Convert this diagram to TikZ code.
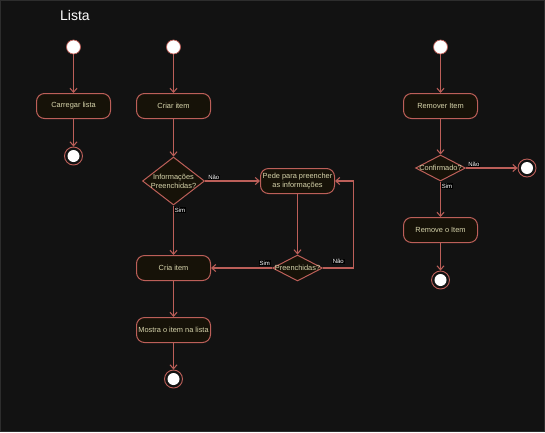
\documentclass[tikz,border=0pt]{standalone}
\usepackage{fontspec}
\setmainfont{Liberation Sans}
\usepackage{tikz}
\usetikzlibrary{arrows.meta,shapes.geometric,calc}

\definecolor{bgcol}{HTML}{121212}
\definecolor{linecol}{HTML}{BC5F59}
\definecolor{boxcol}{HTML}{161208}
\definecolor{txtcol}{HTML}{D8D5AC}

\tikzset{
  actbox/.style={draw=linecol, fill=boxcol, rounded corners=8pt, line width=1pt,
    minimum width=74, minimum height=25, inner sep=1pt, align=center,
    text=txtcol, font=\fontsize{7.4}{8.8}\selectfont},
  decis/.style={diamond, draw=linecol, fill=boxcol, line width=1pt, inner sep=0pt},
  dectext/.style={text=txtcol, font=\fontsize{7.4}{8.8}\selectfont, align=center, inner sep=0pt},
  startnode/.style={circle, draw=linecol, fill=white, minimum size=14, inner sep=0pt, line width=0.7pt},
  endnode/.style={circle, draw=linecol, fill=bgcol, minimum size=18, inner sep=0pt, line width=0.9pt,
    path picture={\fill[white] (path picture bounding box.center) circle (6pt);}},
  flow/.style={color=linecol, line width=1.05pt, -{Straight Barb[length=4pt,width=7pt]}},
  lbl/.style={fill=black, text=white, inner sep=0.8pt, font=\fontsize{6}{7}\selectfont}
}

\begin{document}
\begin{tikzpicture}[x=1pt,y=-1pt]
\fill[bgcol] (0,0) rectangle (545,432);
\draw[gray!25!bgcol, line width=1pt] (0.5,0.5) rectangle (544.5,431.5);

\node[text=white, font=\fontsize{14}{16}\selectfont] (title) at (75,15) {Lista};

% carregar
\node[startnode] (s1) at (73.5,47) {};
\node[actbox] (carregar) at (73.5,106) {Carregar lista};
\node[endnode] (e1) at (73.5,156) {};
\draw[flow] (s1) -- (carregar);
\draw[flow] (carregar) -- (e1);

% criar
\node[startnode] (s2) at (173.5,47) {};
\node[actbox] (criar) at (173.5,106) {Criar item};
\node[decis, minimum width=62, minimum height=48,
  label={[dectext]center:Informações\\Preenchidas?}] (d1) at (173.5,181) {};
\node[actbox] (pede) at (297.5,181) {Pede para preencher\\as informações};
\node[decis, minimum width=50, minimum height=26,
  label={[dectext]center:Preenchidas?}] (d2) at (297.5,268) {};
\node[actbox] (cria) at (173.5,268) {Cria item};
\node[actbox] (mostra) at (173.5,330) {Mostra o item na lista};
\node[endnode] (e2) at (173.5,379) {};
\coordinate (volta) at (353.5,268);

\draw[flow] (s2) -- (criar);
\draw[flow] (criar) -- (d1);
\draw[flow] (d1.east) -- node[lbl, pos=0, above right, xshift=2pt] {Não} (pede.west);
\draw[flow] (d1.south) -- node[lbl, pos=0, below right, yshift=-1pt] {Sim} (cria.north);
\draw[flow] (pede) -- (d2);
\draw[flow] (d2.west) -- node[lbl, pos=0.12, above, yshift=1pt] {Sim} (cria.east);
\draw[flow] (d2.east) -- node[lbl, pos=0.5, above, yshift=3pt] {Não} (volta) |- (pede.east);
\draw[flow] (cria) -- (mostra);
\draw[flow] (mostra) -- (e2);

% remover
\node[startnode] (s3) at (440.5,47) {};
\node[actbox] (remover) at (440.5,106) {Remover Item};
\node[decis, minimum width=50, minimum height=26,
  label={[dectext]center:Confirmado?}] (d3) at (440.5,168) {};
\node[endnode] (e3) at (527,168) {};
\node[actbox] (remove) at (440.5,230) {Remove o Item};
\node[endnode] (e4) at (440.5,280) {};

\draw[flow] (s3) -- (remover);
\draw[flow] (remover) -- (d3);
\draw[flow] (d3.east) -- node[lbl, pos=0, above right, xshift=1pt] {Não} (e3);
\draw[flow] (d3.south) -- node[lbl, pos=0, below right, yshift=-1pt] {Sim} (remove);
\draw[flow] (remove) -- (e4);
\end{tikzpicture}
\end{document}
